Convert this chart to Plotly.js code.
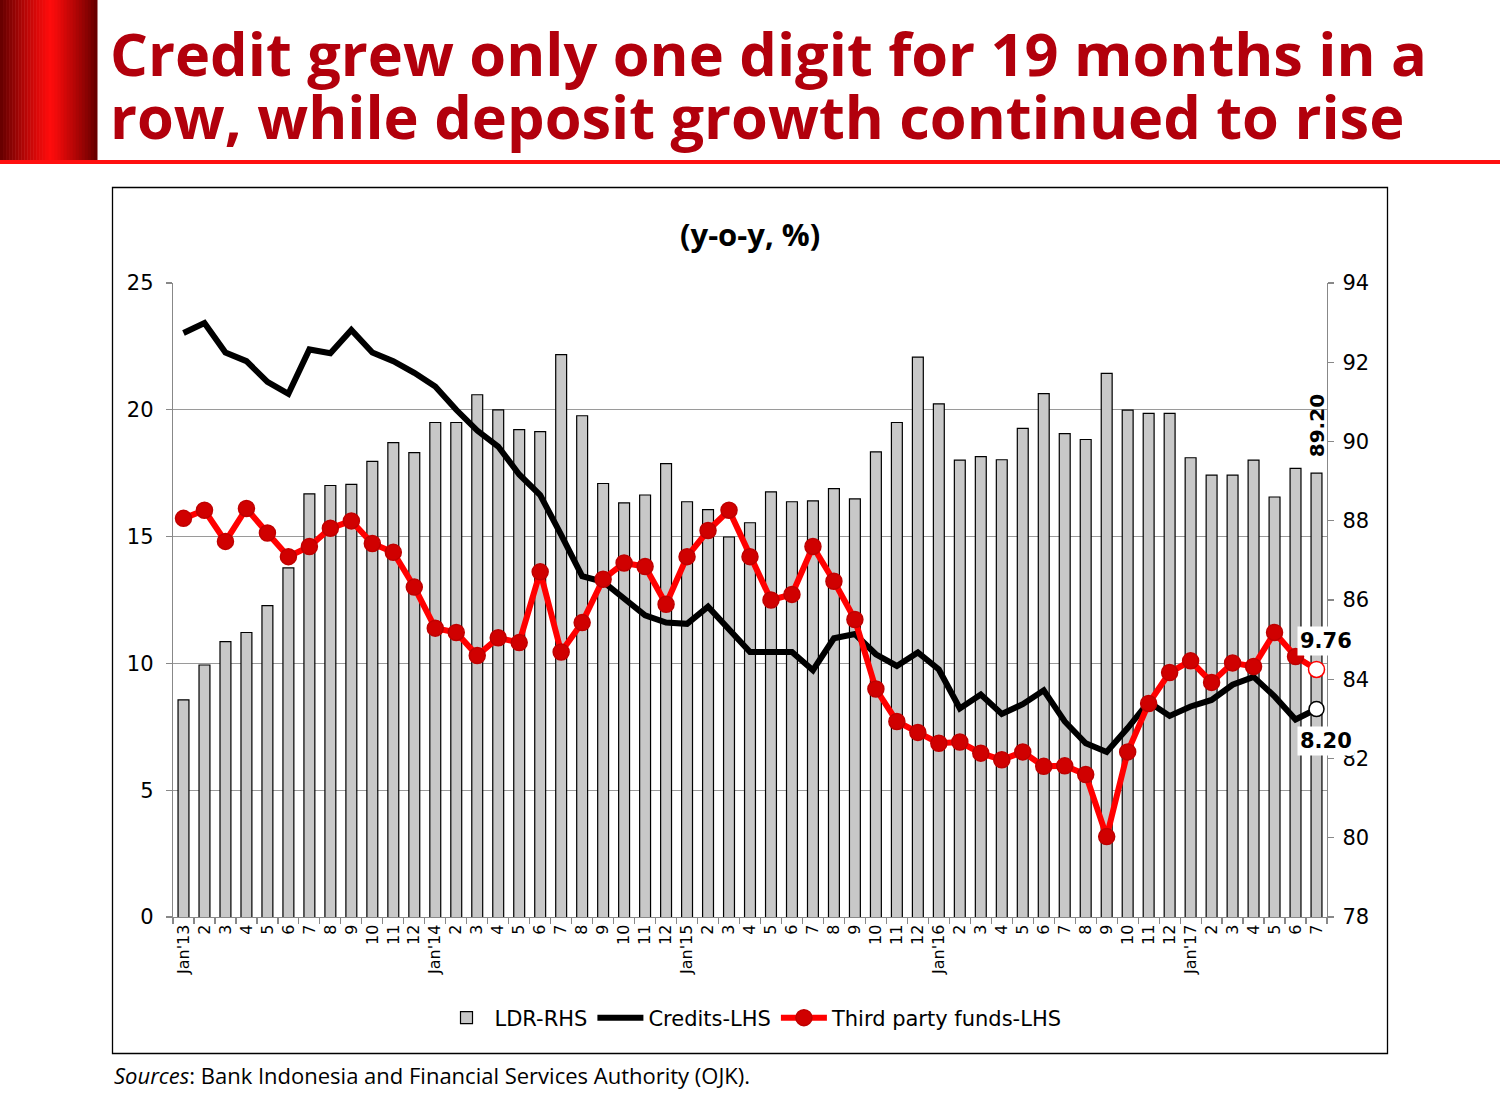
<!DOCTYPE html>
<html>
<head>
<meta charset="utf-8">
<script src="https://cdn.plot.ly/plotly-3.0.1.min.js"></script>
<style>
  html, body { margin: 0; padding: 0; background: #ffffff; }
  #chart { width: 1500px; height: 1096px; }
</style>
</head>
<body>
<div id="chart"></div>
<script>
// ---------------- DATA ----------------
const months = ["Jan'13","2","3","4","5","6","7","8","9","10","11","12",
                "Jan'14","2","3","4","5","6","7","8","9","10","11","12",
                "Jan'15","2","3","4","5","6","7","8","9","10","11","12",
                "Jan'16","2","3","4","5","6","7","8","9","10","11","12",
                "Jan'17","2","3","4","5","6","7"];

const ldr = [83.48, 84.36, 84.95, 85.18, 85.86, 86.81, 88.68, 88.89, 88.92, 89.50, 89.97, 89.72,
             90.48, 90.48, 91.18, 90.80, 90.30, 90.25, 92.19, 90.65, 88.94, 88.45, 88.65, 89.44,
             88.48, 88.28, 87.59, 87.95, 88.73, 88.48, 88.50, 88.81, 88.55, 89.74, 90.48, 92.13,
             90.95, 89.53, 89.62, 89.54, 90.33, 91.21, 90.20, 90.05, 91.72, 90.79, 90.71, 90.71,
             89.59, 89.15, 89.15, 89.53, 88.60, 89.32, 89.20];

const credits = [23.03, 23.42, 22.26, 21.92, 21.10, 20.63, 22.38, 22.23, 23.15, 22.26, 21.92, 21.46,
                 20.92, 20.00, 19.18, 18.55, 17.45, 16.64, 15.07, 13.44, 13.22, 12.59, 11.90, 11.61,
                 11.56, 12.24, 11.34, 10.45, 10.45, 10.45, 9.73, 10.99, 11.16, 10.36, 9.90, 10.43,
                 9.76, 8.22, 8.77, 8.01, 8.39, 8.94, 7.71, 6.85, 6.51, 7.45, 8.48, 7.93,
                 8.30, 8.56, 9.16, 9.47, 8.70, 7.79, 8.20];

const tpf = [15.72, 16.04, 14.81, 16.11, 15.14, 14.21, 14.61, 15.33, 15.62, 14.73, 14.38, 13.01,
             11.39, 11.22, 10.31, 11.01, 10.82, 13.61, 10.45, 11.61, 13.32, 13.96, 13.82, 12.33,
             14.21, 15.24, 16.04, 14.21, 12.50, 12.72, 14.61, 13.24, 11.73, 8.99, 7.71, 7.28,
             6.85, 6.90, 6.46, 6.20, 6.51, 5.94, 5.96, 5.62, 3.17, 6.51, 8.42, 9.64,
             10.10, 9.25, 10.02, 9.88, 11.22, 10.27, 9.76];

const seriesNames = ["LDR-RHS", "Credits-LHS", "Third party funds-LHS"];
const titleLines = ["Credit grew only one digit for 19 months in a",
                    "row, while deposit growth continued to rise"];
const chartSubtitle = "(y-o-y, %)";
const sourceText = "<i>Sources</i>: Bank Indonesia and Financial Services Authority (OJK).";

// ---------------- BUILD ----------------
const W = 1500, H = 1096;
const px = v => v / W;
const py = v => (H - v) / H;

const idx = months.map((_, i) => i);
const last = months.length - 1;

const traces = [
  {
    type: 'bar', name: seriesNames[0], x: idx, y: ldr, yaxis: 'y',
    width: 0.52,
    marker: { color: '#C8C8C8', line: { color: '#000000', width: 1.2 } },
    hoverinfo: 'skip'
  },
  {
    type: 'scatter', mode: 'lines', name: seriesNames[1], x: idx, y: credits, yaxis: 'y2',
    line: { color: '#000000', width: 6 },
    hoverinfo: 'skip'
  },
  {
    type: 'scatter', mode: 'lines+markers', name: seriesNames[2], x: idx, y: tpf, yaxis: 'y2',
    line: { color: '#FF0000', width: 6 },
    marker: {
      size: 16,
      color: tpf.map((v, i) => i === last ? '#FFFFFF' : '#D00000'),
      line: { color: tpf.map((v, i) => i === last ? '#FF0000' : '#C00000'), width: 1.5 }
    },
    hoverinfo: 'skip'
  },
  {
    type: 'scatter', mode: 'markers', x: [last], y: [credits[last]], yaxis: 'y2',
    showlegend: false,
    marker: { size: 15, color: '#FFFFFF', line: { color: '#000000', width: 1.5 } },
    hoverinfo: 'skip'
  }
];

// header gradient strips
const shapes = [];
const nStrip = 32, hdrW = 97, hdrH = 161;
for (let i = 0; i < nStrip; i++) {
  const t = (i + 0.5) / nStrip;
  const d = Math.abs(t - 0.52) / (t < 0.52 ? 0.52 : 0.48); // 0 at peak, 1 at edges
  const r = Math.round(255 - (255 - 100) * Math.pow(d, 1.1));
  const g = Math.round(12 * (1 - d));
  shapes.push({
    type: 'rect', xref: 'paper', yref: 'paper', layer: 'below',
    x0: px(i * hdrW / nStrip), x1: px((i + 1) * hdrW / nStrip + 0.5),
    y0: py(hdrH), y1: py(0),
    fillcolor: `rgb(${r},${g},${g})`, line: { width: 0 }
  });
}
// red rule under title
shapes.push({
  type: 'rect', xref: 'paper', yref: 'paper', layer: 'below',
  x0: px(0), x1: px(1500), y0: py(164), y1: py(160),
  fillcolor: '#FF1010', line: { width: 0 }
});
// chart frame
shapes.push({
  type: 'rect', xref: 'paper', yref: 'paper', layer: 'below',
  x0: px(112.5), x1: px(1387.5), y0: py(1053.5), y1: py(187.5),
  fillcolor: 'rgba(0,0,0,0)', line: { color: '#000000', width: 1.3 }
});

const titleFont = { family: '"Open Sans", Lato, sans-serif', size: 59.5, color: '#B2000C' };
const annotations = [
  { text: '<b>' + titleLines[0] + '</b>', xref: 'paper', yref: 'paper',
    x: px(108), y: py(52), xanchor: 'left', yanchor: 'middle', showarrow: false,
    font: titleFont },
  { text: '<b>' + titleLines[1] + '</b>', xref: 'paper', yref: 'paper',
    x: px(108), y: py(115), xanchor: 'left', yanchor: 'middle', showarrow: false,
    font: titleFont },
  { text: '<b>' + chartSubtitle + '</b>', xref: 'paper', yref: 'paper',
    x: px(750), y: py(234), xanchor: 'center', yanchor: 'middle', showarrow: false,
    font: { family: '"Open Sans", Lato, sans-serif', size: 31, color: '#000000' } },
  { text: sourceText, xref: 'paper', yref: 'paper',
    x: px(112), y: py(1075), xanchor: 'left', yanchor: 'middle', showarrow: false,
    font: { family: '"Open Sans", Lato, sans-serif', size: 22, color: '#000000' } },
  { text: '<b>' + ldr[last].toFixed(2) + '</b>', xref: 'x', yref: 'y',
    x: last, y: ldr[last], xanchor: 'center', yanchor: 'bottom', yshift: 14,
    textangle: -90, showarrow: false,
    font: { family: 'DejaVu Sans, sans-serif', size: 20, color: '#000000' } },
  { text: '<b>' + tpf[last].toFixed(2) + '</b>', xref: 'x', yref: 'y2',
    x: last, y: tpf[last], xanchor: 'center', yanchor: 'middle', xshift: 9, yshift: 28,
    bgcolor: '#FFFFFF', borderpad: 2, showarrow: false,
    font: { family: 'DejaVu Sans, sans-serif', size: 21, color: '#000000' } },
  { text: '<b>' + credits[last].toFixed(2) + '</b>', xref: 'x', yref: 'y2',
    x: last, y: credits[last], xanchor: 'center', yanchor: 'middle', xshift: 9, yshift: -32,
    bgcolor: '#FFFFFF', borderpad: 2, showarrow: false,
    font: { family: 'DejaVu Sans, sans-serif', size: 21, color: '#000000' } }
];

const tickFont = { family: 'DejaVu Sans, sans-serif', size: 21, color: '#000000' };

const layout = {
  width: W, height: H, autosize: false,
  margin: { l: 0, r: 0, t: 0, b: 0, pad: 0 },
  paper_bgcolor: '#FFFFFF', plot_bgcolor: 'rgba(0,0,0,0)',
  showlegend: true,
  legend: {
    orientation: 'h', x: px(753), y: py(1018), xanchor: 'center', yanchor: 'middle',
    font: { family: 'DejaVu Sans, sans-serif', size: 21, color: '#000000' },
    bgcolor: 'rgba(0,0,0,0)', itemwidth: 46, tracegroupgap: 0
  },
  xaxis: {
    domain: [px(173), px(1327)], anchor: 'y',
    range: [-0.5, last + 0.5],
    tickmode: 'array', tickvals: idx, ticktext: months,
    ticks: '', tickangle: -90,
    tickfont: { family: 'DejaVu Sans, sans-serif', size: 16, color: '#000000' },
    showgrid: false, zeroline: false,
    showline: true, linecolor: '#888888', linewidth: 1.2,
    minor: { tickmode: 'linear', tick0: -0.5, dtick: 1, ticks: 'outside', ticklen: 6,
             tickcolor: '#888888', tickwidth: 1.2, showgrid: false }
  },
  yaxis: {
    domain: [py(917), py(283)], anchor: 'x', side: 'right',
    range: [78, 94], dtick: 2, tick0: 78,
    ticks: 'outside', ticklen: 6, tickcolor: '#888888', tickwidth: 1.2,
    tickfont: tickFont, ticklabelstandoff: 4,
    showgrid: false, zeroline: false,
    showline: true, linecolor: '#888888', linewidth: 1.2
  },
  yaxis2: {
    overlaying: 'y', side: 'left', anchor: 'x',
    range: [0, 25], dtick: 5, tick0: 0,
    ticks: 'outside', ticklen: 6, tickcolor: '#888888', tickwidth: 1.2,
    tickfont: tickFont, ticklabelstandoff: 8,
    showgrid: true, gridcolor: '#9A9A9A', gridwidth: 1.2, zeroline: false,
    showline: true, linecolor: '#888888', linewidth: 1.2
  },
  bargap: 0.5,
  shapes: shapes,
  annotations: annotations
};

Plotly.newPlot('chart', traces, layout, { staticPlot: true, displayModeBar: false });
</script>
</body>
</html>
